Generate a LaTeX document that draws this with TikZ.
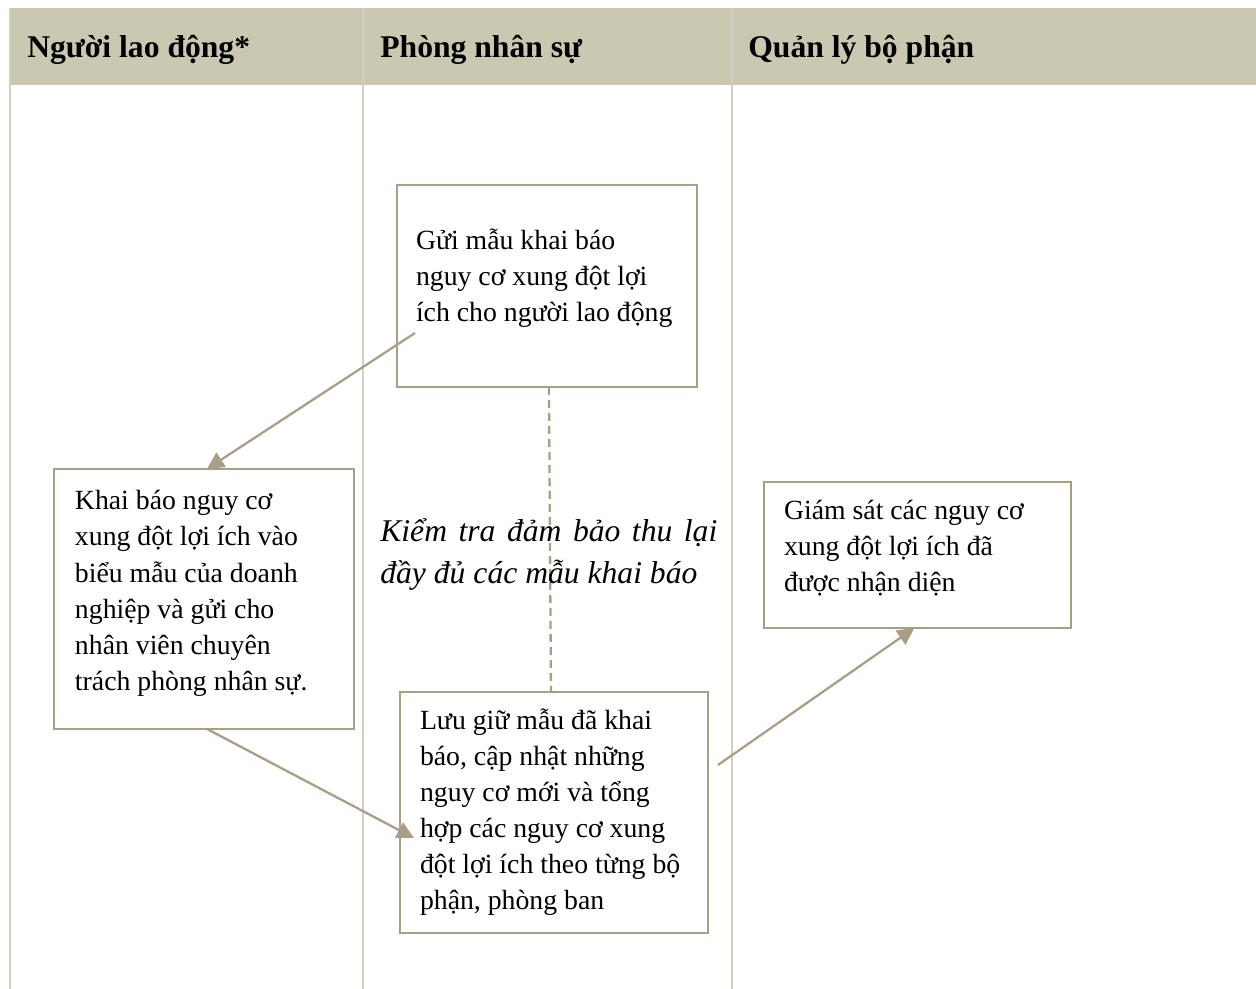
\documentclass[tikz,border=0pt]{standalone}
\usepackage{fontspec}
\setmainfont{Liberation Serif}
\usetikzlibrary{positioning,calc,arrows.meta}
\definecolor{headfill}{HTML}{CAC8B0}
\definecolor{boxtan}{HTML}{A89F86}
\definecolor{laneline}{HTML}{D3CFC0}
% empty space below the last line of a box text
\newcommand\lift[1]{\par\vskip#1\hrule height0pt width0pt}

\begin{document}
\begin{tikzpicture}[x=0.02cm,y=-0.02cm]
\tikzset{
  lane/.style={draw=laneline, line width=1.1pt},
  box/.style={draw=boxtan, line width=1.1pt, fill=white, anchor=north west, outer sep=0pt,
    inner xsep=0.4cm, align=flush left, font=\fontsize{15.8}{20.5}\selectfont},
  arr/.style={draw=boxtan, line width=1.3pt, -{Triangle[length=0.34cm,width=0.34cm]}},
  lanetitle/.style={anchor=base west, inner sep=0pt, font=\bfseries\fontsize{18}{21}\selectfont},
  note/.style={anchor=north west, inner sep=0pt, text width=6.74cm, align=justify,
    font=\itshape\fontsize{18}{23.8}\selectfont}
}
\useasboundingbox (0,0) rectangle (1256,989);
% header band and lanes
\fill[headfill] (10,8) rectangle (1256,85);
\draw[lane] (10,8) -- (10,989);
\draw[lane] (363,8) -- (363,989);
\draw[lane] (732,8) -- (732,989);
\node[lanetitle] (t1) at (27,58) {Người lao động*};
\node[lanetitle] (t2) at (380,58) {Phòng nhân sự};
\node[lanetitle] (t3) at (748,58) {Quản lý bộ phận};
% boxes
\node[box, minimum width=6cm, minimum height=4.04cm, text width=5.24cm, inner xsep=0.38cm] (send) at (397,185)
  {Gửi mẫu khai báo\\nguy cơ xung đột lợi\\ích cho người lao động\lift{8.5pt}};
\node[box, minimum width=6cm, minimum height=5.2cm, text width=5.16cm, inner xsep=0.42cm] (decl) at (54,469)
  {Khai báo nguy cơ\\xung đột lợi ích vào\\biểu mẫu của doanh\\nghiệp và gửi cho\\nhân viên chuyên\\trách phòng nhân sự.\lift{6.4pt}};
\node[box, minimum width=6.16cm, minimum height=4.82cm, text width=5.36cm] (keep) at (400,692)
  {Lưu giữ mẫu đã khai\\báo, cập nhật những\\nguy cơ mới và tổng\\hợp các nguy cơ xung\\đột lợi ích theo từng bộ\\phận, phòng ban};
\node[box, minimum width=6.14cm, minimum height=2.92cm, text width=5.34cm] (watch) at (764,482)
  {Giám sát các nguy cơ\\xung đột lợi ích đã\\được nhận diện\lift{7.5pt}};
% connectors
\coordinate (s1) at ($(send.north west)+(18,148)$);
\coordinate (e2) at ($(keep.north west)+(14,146)$);
\coordinate (s3) at ($(keep.north east)+(10,73)$);
\draw[arr] (s1) -- ($(decl.north west)!0.51!(decl.north east)$);
\draw[arr] ($(decl.south west)!0.51!(decl.south east)$) -- (e2);
\draw[arr] (s3) -- ($(watch.south west)!0.49!(watch.south east)$);
\draw[boxtan, line width=1.3pt, dash pattern=on 0.16cm off 0.1cm]
  ($(send.south)+(2,0)$) -- ($(keep.north)+(-3,0)$);
\node[note] (check) at (380,518)
  {Kiểm tra đảm bảo thu lại\linebreak đầy đủ các mẫu khai báo};
\end{tikzpicture}
\end{document}
